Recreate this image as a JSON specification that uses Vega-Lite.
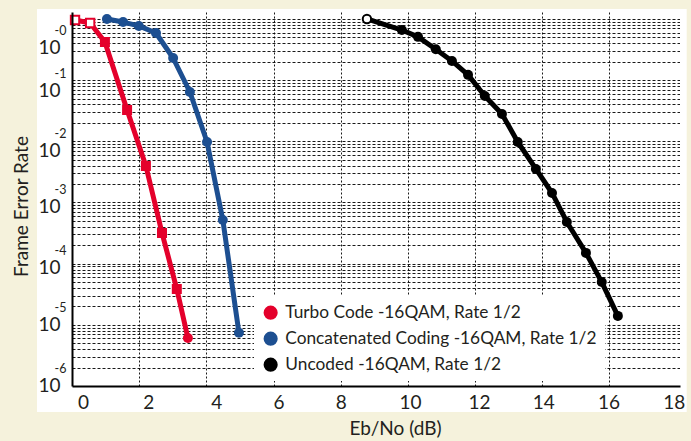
{
  "$schema": "https://vega.github.io/schema/vega-lite/v6.json",
  "width": 608,
  "height": 374,
  "autosize": "none",
  "padding": {"left": 72, "top": 12, "right": 11, "bottom": 55},
  "background": "#f5f2dc",
  "view": {"fill": "white", "stroke": null},
  "config": {"font": "Lato", "text": {"font": "Lato"}},
  "datasets": {
    "pts": [
      {"series": "Turbo Code -16QAM, Rate 1/2", "x": 0.09, "fer": 0.96, "symbol": "square", "hollow": true},
      {"series": "Turbo Code -16QAM, Rate 1/2", "x": 0.54, "fer": 0.86, "symbol": "square", "hollow": true},
      {"series": "Turbo Code -16QAM, Rate 1/2", "x": 0.98, "fer": 0.42, "symbol": "square", "hollow": false},
      {"series": "Turbo Code -16QAM, Rate 1/2", "x": 1.64, "fer": 0.0325, "symbol": "square", "hollow": false},
      {"series": "Turbo Code -16QAM, Rate 1/2", "x": 2.20, "fer": 0.00395, "symbol": "square", "hollow": false},
      {"series": "Turbo Code -16QAM, Rate 1/2", "x": 2.68, "fer": 0.000317, "symbol": "square", "hollow": false},
      {"series": "Turbo Code -16QAM, Rate 1/2", "x": 3.12, "fer": 0.0000385, "symbol": "square", "hollow": false},
      {"series": "Turbo Code -16QAM, Rate 1/2", "x": 3.45, "fer": 0.0000061, "symbol": "circle", "hollow": false},
      {"series": "Concatenated Coding -16QAM, Rate 1/2", "x": 1.04, "fer": 1.0, "symbol": "circle", "hollow": false},
      {"series": "Concatenated Coding -16QAM, Rate 1/2", "x": 1.52, "fer": 0.89, "symbol": "circle", "hollow": false},
      {"series": "Concatenated Coding -16QAM, Rate 1/2", "x": 1.99, "fer": 0.77, "symbol": "circle", "hollow": false},
      {"series": "Concatenated Coding -16QAM, Rate 1/2", "x": 2.50, "fer": 0.59, "symbol": "circle", "hollow": false},
      {"series": "Concatenated Coding -16QAM, Rate 1/2", "x": 3.01, "fer": 0.23, "symbol": "circle", "hollow": false},
      {"series": "Concatenated Coding -16QAM, Rate 1/2", "x": 3.51, "fer": 0.064, "symbol": "circle", "hollow": false},
      {"series": "Concatenated Coding -16QAM, Rate 1/2", "x": 4.02, "fer": 0.00975, "symbol": "circle", "hollow": false},
      {"series": "Concatenated Coding -16QAM, Rate 1/2", "x": 4.49, "fer": 0.000518, "symbol": "circle", "hollow": false},
      {"series": "Concatenated Coding -16QAM, Rate 1/2", "x": 4.97, "fer": 0.0000074, "symbol": "circle", "hollow": false},
      {"series": "Uncoded -16QAM, Rate 1/2", "x": 8.78, "fer": 1.0, "symbol": "circle", "hollow": true},
      {"series": "Uncoded -16QAM, Rate 1/2", "x": 9.82, "fer": 0.66, "symbol": "circle", "hollow": false},
      {"series": "Uncoded -16QAM, Rate 1/2", "x": 10.30, "fer": 0.51, "symbol": "circle", "hollow": false},
      {"series": "Uncoded -16QAM, Rate 1/2", "x": 10.83, "fer": 0.32, "symbol": "circle", "hollow": false},
      {"series": "Uncoded -16QAM, Rate 1/2", "x": 11.31, "fer": 0.206, "symbol": "circle", "hollow": false},
      {"series": "Uncoded -16QAM, Rate 1/2", "x": 11.79, "fer": 0.122, "symbol": "circle", "hollow": false},
      {"series": "Uncoded -16QAM, Rate 1/2", "x": 12.29, "fer": 0.055, "symbol": "circle", "hollow": false},
      {"series": "Uncoded -16QAM, Rate 1/2", "x": 12.80, "fer": 0.028, "symbol": "circle", "hollow": false},
      {"series": "Uncoded -16QAM, Rate 1/2", "x": 13.27, "fer": 0.00975, "symbol": "circle", "hollow": false},
      {"series": "Uncoded -16QAM, Rate 1/2", "x": 13.81, "fer": 0.00353, "symbol": "circle", "hollow": false},
      {"series": "Uncoded -16QAM, Rate 1/2", "x": 14.29, "fer": 0.00143, "symbol": "circle", "hollow": false},
      {"series": "Uncoded -16QAM, Rate 1/2", "x": 14.73, "fer": 0.00048, "symbol": "circle", "hollow": false},
      {"series": "Uncoded -16QAM, Rate 1/2", "x": 15.30, "fer": 0.00015, "symbol": "circle", "hollow": false},
      {"series": "Uncoded -16QAM, Rate 1/2", "x": 15.77, "fer": 0.00005, "symbol": "circle", "hollow": false},
      {"series": "Uncoded -16QAM, Rate 1/2", "x": 16.25, "fer": 0.000014, "symbol": "circle", "hollow": false}
    ]
  },
  "resolve": {"scale": {"x": "independent", "y": "independent"}},
  "layer": [
    {
      "data": {"values": [{}]},
      "mark": {"type": "rect", "fill": "white"},
      "encoding": {
        "x": {"datum": -1.042, "type": "quantitative", "scale": {"domain": [0, 18.1]},
          "axis": {"orient": "bottom", "values": [2, 4, 6, 8, 10, 12, 14, 16], "grid": true, "gridColor": "#000", "gridDash": [2, 2], "gridWidth": 1, "gridOpacity": 0.9, "labels": false, "ticks": false, "domain": false, "title": null, "zindex": 0}},
        "x2": {"datum": 0},
        "y": {"datum": 3.76e-7, "type": "quantitative", "scale": {"type": "log", "domain": [1e-6, 1.3]},
          "axis": {"orient": "left", "values": [1e-6,2e-6,3e-6,4e-6,5e-6,6e-6,7e-6,8e-6,9e-6,1e-5,2e-5,3e-5,4e-5,5e-5,6e-5,7e-5,8e-5,9e-5,1e-4,2e-4,3e-4,4e-4,5e-4,6e-4,7e-4,8e-4,9e-4,1e-3,2e-3,3e-3,4e-3,5e-3,6e-3,7e-3,8e-3,9e-3,0.01,0.02,0.03,0.04,0.05,0.06,0.07,0.08,0.09,0.1,0.2,0.3,0.4,0.5,0.6,0.7,0.8,0.9,1],
            "grid": true, "gridColor": "#000", "gridDash": [3, 2], "gridWidth": 1, "gridOpacity": 0.9, "labels": false, "ticks": false, "domain": false, "title": null, "zindex": 0}},
        "y2": {"datum": 1.456}
      }
    },
    {
      "data": {"values": [{}]},
      "mark": {"type": "rect", "fill": "white"},
      "encoding": {
        "x": {"datum": 0, "type": "quantitative", "scale": {"domain": [0, 18.1]}, "axis": null},
        "x2": {"datum": 18.3},
        "y": {"datum": 3.76e-7, "type": "quantitative", "scale": {"type": "log", "domain": [1e-6, 1.3]}, "axis": null},
        "y2": {"datum": 1e-6}
      }
    },
    {
      "data": {"values": [{}]},
      "mark": {"type": "rect", "fill": "white"},
      "encoding": {
        "x": {"datum": 0, "type": "quantitative", "scale": {"domain": [0, 18.1]}, "axis": null},
        "x2": {"datum": 18.3},
        "y": {"datum": 1.3, "type": "quantitative", "scale": {"type": "log", "domain": [1e-6, 1.3]}, "axis": null},
        "y2": {"datum": 1.456}
      }
    },
    {
      "data": {"values": [{}]},
      "mark": {"type": "rect", "fill": "white"},
      "encoding": {
        "x": {"datum": 18.1, "type": "quantitative", "scale": {"domain": [0, 18.1]}, "axis": null},
        "x2": {"datum": 18.3},
        "y": {"datum": 1e-6, "type": "quantitative", "scale": {"type": "log", "domain": [1e-6, 1.3]}, "axis": null},
        "y2": {"datum": 1.3}
      }
    },
    {
      "data": {"name": "pts"},
      "mark": {"type": "line", "strokeWidth": 5, "strokeJoin": "round", "strokeCap": "round"},
      "encoding": {
        "x": {"field": "x", "type": "quantitative", "scale": {"domain": [0, 18.1]},
          "axis": {"orient": "bottom", "values": [0, 2, 4, 6, 8, 10, 12, 14, 16, 18], "grid": false, "domain": true, "domainColor": "#000", "domainWidth": 2, "ticks": false,
            "labelFont": "Lato", "labelFontSize": 19, "labelColor": "#231f20", "labelPadding": 7, "labelFlush": false, "labelOverlap": false,
            "labelOffset": {"expr": "[11,9,10,5,0,2,4,1,-1,-3][round(datum.value/2)]"},
            "title": "Eb/No (dB)", "titleFont": "Lato", "titleFontSize": 19, "titleFontWeight": "normal", "titleColor": "#231f20", "titleX": 323, "titleY": 42, "titleBaseline": "middle", "zindex": 1}},
        "y": {"field": "fer", "type": "quantitative", "scale": {"type": "log", "domain": [1e-6, 1.3]},
          "axis": {"orient": "left", "values": [1e-6, 1e-5, 1e-4, 1e-3, 0.01, 0.1, 1], "grid": false, "domain": true, "domainColor": "#000", "domainWidth": 2, "ticks": false,
            "labelExpr": "'10'", "labelFont": "Lato", "labelFontSize": 19, "labelColor": "#231f20", "labelPadding": 12, "labelBaseline": "middle", "labelFlush": false, "labelOverlap": false,
            "labelOffset": {"expr": "[29,10,9,4.5,4.3,0,-1][round(-log(datum.value)/LN10)]"},
            "title": "Frame Error Rate", "titleFont": "Lato", "titleFontSize": 19, "titleFontWeight": "normal", "titleColor": "#231f20", "titleX": -51, "titleY": 194, "titleBaseline": "middle", "titleAngle": -90, "zindex": 1}},
        "color": {"field": "series", "type": "nominal",
          "scale": {"domain": ["Turbo Code -16QAM, Rate 1/2", "Concatenated Coding -16QAM, Rate 1/2", "Uncoded -16QAM, Rate 1/2"], "range": ["#e4002b", "#1d4f91", "#000000"]},
          "legend": {"orient": "none", "legendX": 182, "legendY": 284, "title": null, "fillColor": "white", "padding": 8,
            "symbolType": "circle", "symbolSize": 200, "symbolStrokeWidth": 0,
            "labelFont": "Lato", "labelFontSize": 17.3, "labelColor": "#231f20", "labelOffset": 6, "labelLimit": 400, "rowPadding": 8, "zindex": 1,
            "encode": {"symbols": {"update": {"fill": {"scale": "color", "field": "value"}, "stroke": {"value": "transparent"}, "strokeWidth": {"value": 0}, "opacity": {"value": 1}}}}}}
      }
    },
    {
      "data": {"name": "pts"},
      "transform": [{"filter": "!datum.hollow"}],
      "mark": {"type": "point", "filled": true, "size": 100, "opacity": 1},
      "encoding": {
        "x": {"field": "x", "type": "quantitative", "scale": {"domain": [0, 18.1]}, "axis": null},
        "y": {"field": "fer", "type": "quantitative", "scale": {"type": "log", "domain": [1e-6, 1.3]},
          "axis": {"orient": "left", "values": [1e-6, 1e-5, 1e-4, 1e-3, 0.01, 0.1, 1], "grid": false, "domain": false, "ticks": false,
            "labelExpr": "'-' + round(-log(datum.value)/LN10)", "labelFont": "Lato", "labelFontSize": 12.5, "labelColor": "#231f20", "labelPadding": 6, "labelBaseline": "middle", "labelFlush": false, "labelOverlap": false,
            "labelOffset": {"expr": "[12,-7,-8,-12.5,-12.7,-17,-18][round(-log(datum.value)/LN10)]"},
            "title": null, "zindex": 1}},
        "color": {"field": "series", "type": "nominal",
          "scale": {"domain": ["Turbo Code -16QAM, Rate 1/2", "Concatenated Coding -16QAM, Rate 1/2", "Uncoded -16QAM, Rate 1/2"], "range": ["#e4002b", "#1d4f91", "#000000"]}},
        "shape": {"field": "symbol", "type": "nominal", "scale": {"domain": ["square", "circle"], "range": ["square", "circle"]}, "legend": null}
      }
    },
    {
      "data": {"name": "pts"},
      "transform": [{"filter": "datum.hollow"}],
      "mark": {"type": "point", "filled": false, "fill": "white", "fillOpacity": 1, "strokeWidth": 2, "size": 70, "opacity": 1},
      "encoding": {
        "x": {"field": "x", "type": "quantitative", "scale": {"domain": [0, 18.1]}, "axis": null},
        "y": {"field": "fer", "type": "quantitative", "scale": {"type": "log", "domain": [1e-6, 1.3]}, "axis": null},
        "color": {"field": "series", "type": "nominal",
          "scale": {"domain": ["Turbo Code -16QAM, Rate 1/2", "Concatenated Coding -16QAM, Rate 1/2", "Uncoded -16QAM, Rate 1/2"], "range": ["#e4002b", "#1d4f91", "#000000"]}},
        "shape": {"field": "symbol", "type": "nominal", "scale": {"domain": ["square", "circle"], "range": ["square", "circle"]}, "legend": null}
      }
    }
  ]
}
